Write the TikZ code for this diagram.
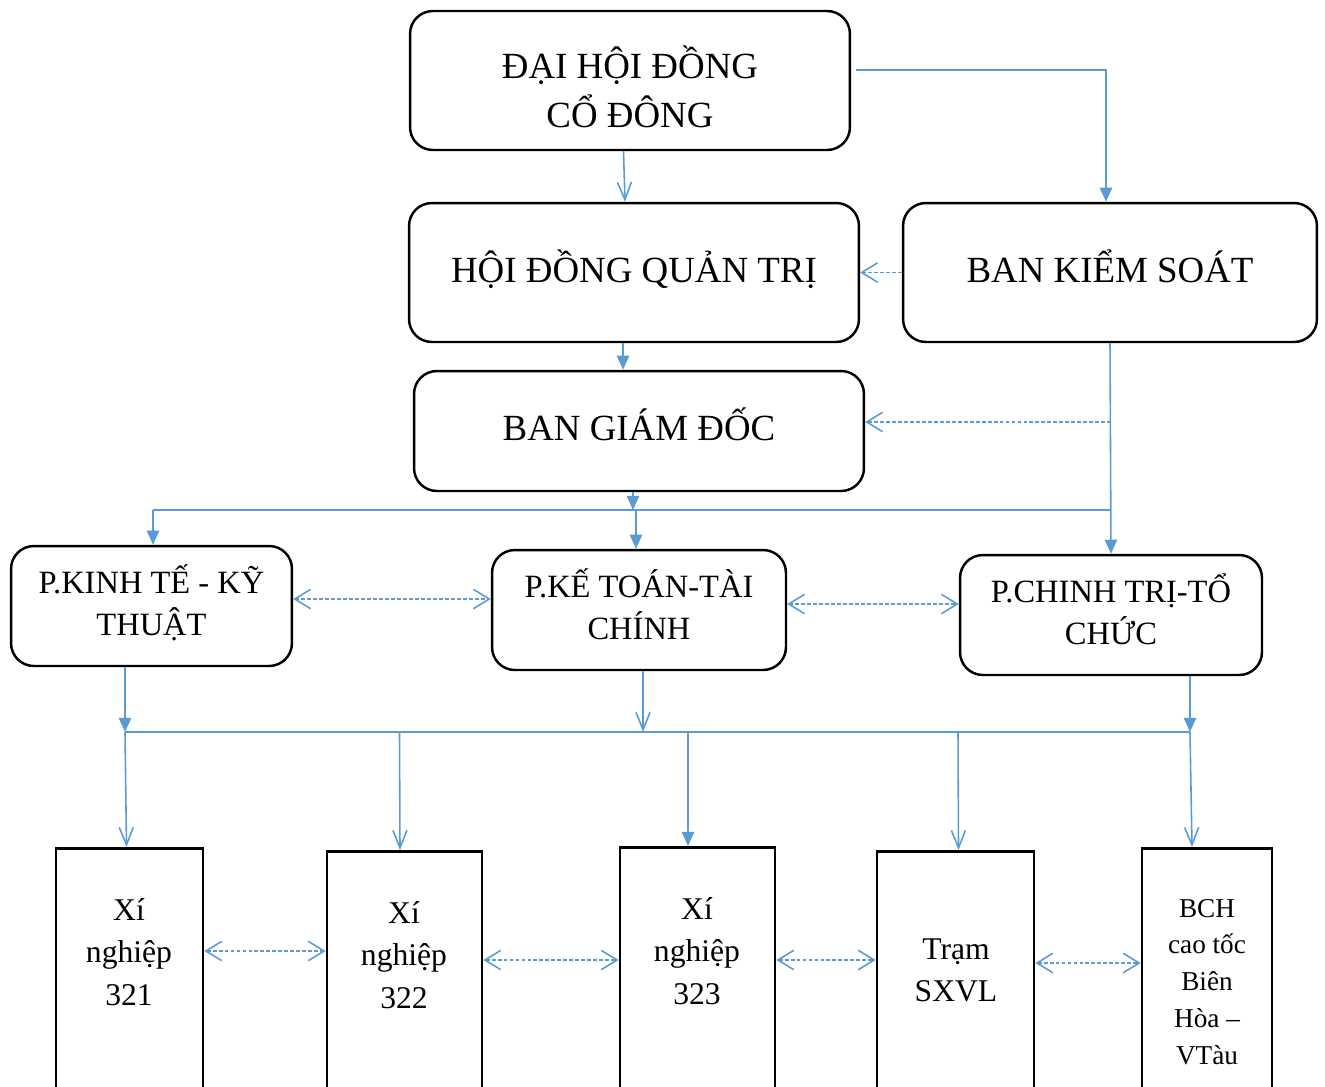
\documentclass[tikz,border=0pt]{standalone}
\usepackage{fontspec}
\setmainfont{Liberation Serif}
\usetikzlibrary{arrows.meta,calc}
\definecolor{link}{HTML}{5B9BD5}
\tikzset{
  rbox/.style={draw=black, line width=1.4pt, rounded corners=13pt, align=center, inner sep=0pt},
  sbox/.style={draw=black, line width=1.6pt, minimum height=6cm, anchor=north, inner sep=0pt},
  big/.style={font=\fontsize{21}{28}\selectfont, text height=14pt, text depth=3pt},
  mid/.style={font=\fontsize{18.5}{24}\selectfont, text height=36pt, text depth=2.8pt},
  small/.style={font=\fontsize{18}{24}\selectfont, align=center},
  tiny/.style={font=\fontsize{15.5}{21}\selectfont, align=center},
  lnk/.style={draw=link, line width=0.9pt},
  opn/.style={lnk, -{Straight Barb[length=10pt, width=8pt]}},
  fil/.style={lnk, -{Triangle[length=8pt, width=7pt]}},
  dsh/.style={lnk, dash pattern=on 2.2pt off 1.2pt, -{Straight Barb[length=9pt, width=11pt]}},
  dd/.style={lnk, dash pattern=on 2.2pt off 1.2pt,
    {Straight Barb[length=9pt, width=11pt]}-{Straight Barb[length=9pt, width=11pt]}}
}
\begin{document}
\begin{tikzpicture}[x=0.02cm, y=-0.02cm]
  \clip (0,0) rectangle (1325,1086);

  % upper levels
  \node[rbox, big, text height=57pt, text depth=3.1pt, minimum width=8.8cm, minimum height=2.78cm] (dhdcd) at (630,80.5) {ĐẠI HỘI ĐỒNG\\CỔ ĐÔNG};
  \node[rbox, big, minimum width=9cm, minimum height=2.78cm] (hdqt) at (634,272.5) {HỘI ĐỒNG QUẢN TRỊ};
  \node[rbox, big, minimum width=8.28cm, minimum height=2.78cm] (bks) at (1110,272.5) {BAN KIỂM SOÁT};
  \node[rbox, big, minimum width=9cm, minimum height=2.4cm] (bgd) at (639,431) {BAN GIÁM ĐỐC};

  % departments
  \node[rbox, mid, minimum width=5.62cm, minimum height=2.4cm] (pkt) at (151.5,606) {P.KINH TẾ - KỸ\\THUẬT};
  \node[rbox, mid, minimum width=5.88cm, minimum height=2.4cm] (pktc) at (639,610) {P.KẾ TOÁN-TÀI\\CHÍNH};
  \node[rbox, mid, minimum width=6.04cm, minimum height=2.4cm] (pct) at (1111,615) {P.CHINH TRỊ-TỔ\\CHỨC};

  % units
  \node[sbox, minimum width=2.94cm] (x321) at (129.5,847) {};
  \node[sbox, minimum width=3.1cm] (x322) at (404.5,850) {};
  \node[sbox, minimum width=3.1cm] (x323) at (697.5,846) {};
  \node[sbox, minimum width=3.14cm] (tram) at (955.5,850) {};
  \node[sbox, minimum width=2.6cm] (bch) at (1207,847) {};
  \node[small] (t321) at (129,952) {Xí\\nghiệp\\321};
  \node[small] (t322) at (404,955) {Xí\\nghiệp\\322};
  \node[small] (t323) at (697,951) {Xí\\nghiệp\\323};
  \node[small] (ttram) at (956,970) {Trạm\\SXVL};
  \node[tiny] (tbch) at (1207,982) {BCH\\cao tốc\\Biên\\Hòa –\\VTàu};

  \coordinate (kb) at (1111,422);
  \coordinate (busA) at (153,510);
  \coordinate (busAr) at (1111,510);
  \coordinate (busB) at (125,732);
  \coordinate (busBr) at (1190,732);
  \coordinate (d1) at (0,951);
  \coordinate (d2) at (0,960);
  \coordinate (d3) at (0,960);
  \coordinate (d4) at (0,963);

  \draw[opn] ([xshift=-0.13cm]dhdcd.south) -- ([xshift=-0.18cm]hdqt.north);
  \draw[fil] ([xshift=0.1cm, yshift=0.21cm]dhdcd.east) -| ([xshift=-0.08cm]bks.north);
  \draw[dsh] (bks.west) -- (hdqt.east);
  \draw[fil] ([xshift=-0.22cm]hdqt.south) -- ([xshift=-0.32cm]bgd.north);
  \draw[fil] (bks.south) -- (pct.north);
  \draw[dsh] (kb) -- (kb -| bgd.east);

  \draw[lnk] (busA) -- (busAr);
  \draw[fil] ([xshift=-0.12cm]bgd.south) -- ([xshift=-0.12cm]bgd.south |- busA);
  \draw[fil] ([xshift=-0.06cm]pktc.north |- busA) -- ([xshift=-0.06cm]pktc.north);
  \draw[fil] (busA) -- (busA |- pkt.north);
  \draw[dd] ([yshift=0.14cm]pkt.east) -- ([yshift=0.14cm]pkt.east -| pktc.west);
  \draw[dd] ([yshift=0.12cm]pktc.east) -- ([yshift=0.12cm]pktc.east -| pct.west);

  \draw[lnk] (busB) -- (busBr);
  \draw[fil] (busB |- pkt.south) -- (busB);
  \draw[opn] ([xshift=0.08cm]pktc.south) -- ([xshift=0.08cm]pktc.south |- busB);
  \draw[fil] (busBr |- pct.south) -- (busBr);
  \draw[opn] (busB) -- ([xshift=-0.06cm]x321.north);
  \draw[opn] ([xshift=-0.1cm]x322.north |- busB) -- ([xshift=-0.09cm]x322.north);
  \draw[fil] ([xshift=-0.19cm]x323.north |- busB) -- ([xshift=-0.19cm]x323.north);
  \draw[opn] ([xshift=0.05cm]tram.north |- busB) -- ([xshift=0.06cm]tram.north);
  \draw[opn] (busBr) -- ([xshift=-0.3cm]bch.north);

  \draw[dd] (x321.east |- d1) -- (x322.west |- d1);
  \draw[dd] (x322.east |- d2) -- (x323.west |- d2);
  \draw[dd] (x323.east |- d3) -- (tram.west |- d3);
  \draw[dd] (tram.east |- d4) -- (bch.west |- d4);
\end{tikzpicture}
\end{document}
